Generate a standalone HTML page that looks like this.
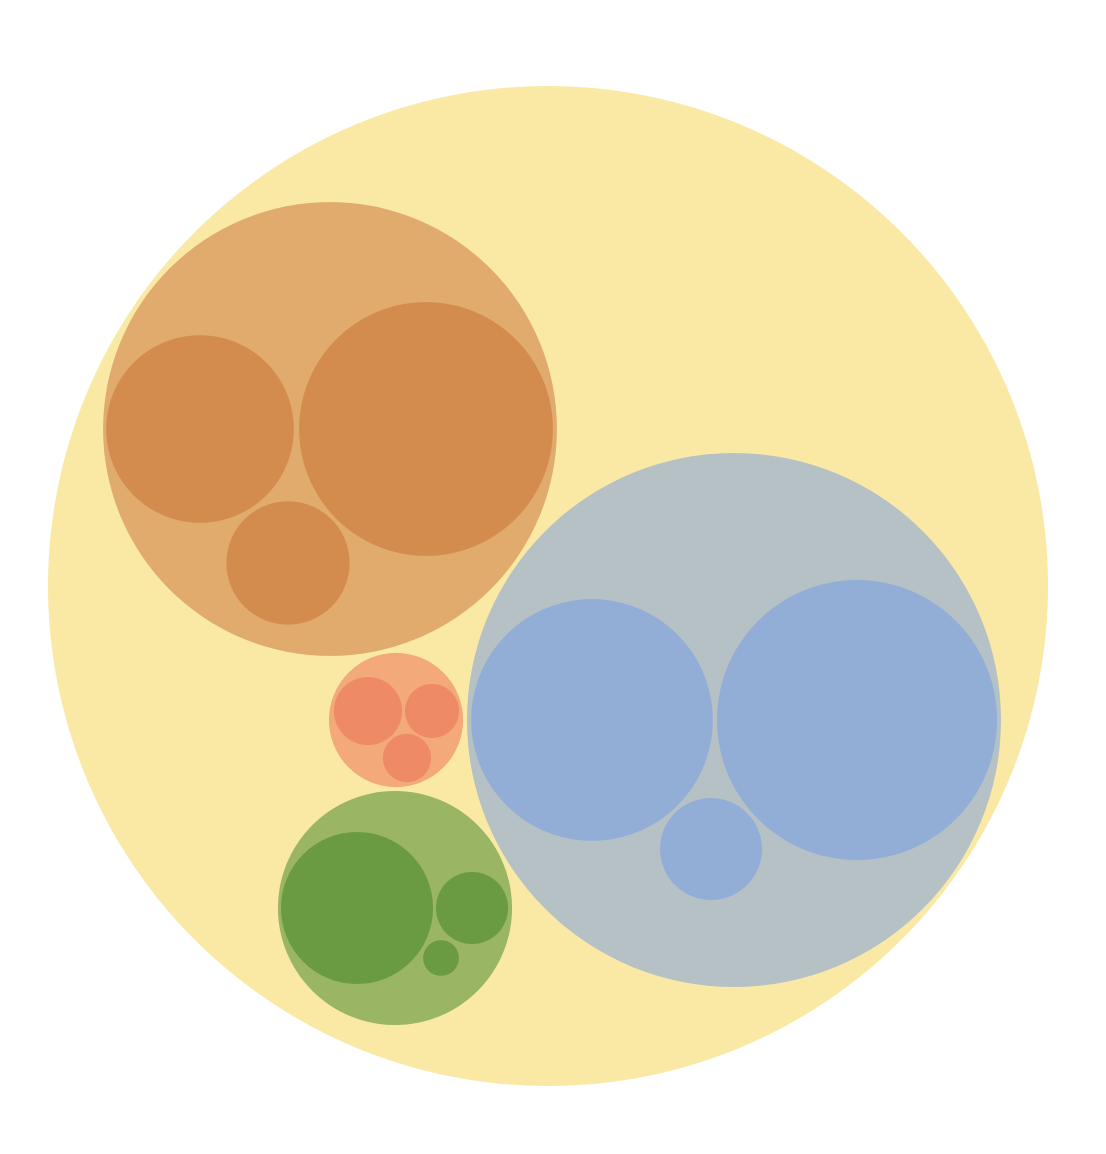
<!DOCTYPE html>
<html>
<head>
<meta charset="utf-8">
<style>
  html, body { margin: 0; padding: 0; background: #ffffff; }
  svg { display: block; }
</style>
</head>
<body>
<svg id="chart" width="1106" height="1154" viewBox="0 0 1106 1154" xmlns="http://www.w3.org/2000/svg"></svg>
<script>
// Data: values (area units); radius = 10 * sqrt(value)
const rootValue = [2500];
const groupNames = ["orange-group", "slate-group", "salmon-group", "green-group"];
const groupValues = [515, 713, 45, 137];
const leafNames = [
  ["orange-leaf-1", "orange-leaf-2", "orange-leaf-3"],
  ["blue-leaf-1", "blue-leaf-2", "blue-leaf-3"],
  ["salmon-leaf-1", "salmon-leaf-2", "salmon-leaf-3"],
  ["green-leaf-1", "green-leaf-2", "green-leaf-3"]
];
const leafValues = [
  [88, 161, 38],
  [146, 196, 26],
  [11.6, 7.3, 5.8],
  [57.8, 13, 3.2]
];

// Layout (centers) and styling
const rootCenter = [548, 586];
const groupCenters = [[330, 429], [734, 720], [396, 720], [395, 908]];
const leafCenters = [
  [[200, 429], [426, 429], [288, 563]],
  [[592, 720], [857, 720], [711, 849]],
  [[368, 711], [432, 711], [407, 758]],
  [[357, 908], [472, 908], [441, 958]]
];
const groupColors = ["#E0AB6D", "#B6C1C6", "#F3A97A", "#9AB563"];
const leafColors = ["#D38C4D", "#92ADD6", "#EE8A66", "#6A9B43"];

const svg = document.getElementById('chart');
const NS = "http://www.w3.org/2000/svg";
function radius(v) { return 10 * Math.sqrt(v); }
function circle(cx, cy, r, fill) {
  const c = document.createElementNS(NS, 'circle');
  c.setAttribute('cx', cx);
  c.setAttribute('cy', cy);
  c.setAttribute('r', r);
  c.setAttribute('fill', fill);
  svg.appendChild(c);
  return c;
}

const root = circle(rootCenter[0], rootCenter[1], radius(rootValue[0]), "#FAE9A5");



groupValues.forEach((v, i) => {
  const g = circle(groupCenters[i][0], groupCenters[i][1], radius(v), groupColors[i]);
  
  
  leafValues[i].forEach((lv, j) => {
    const l = circle(leafCenters[i][j][0], leafCenters[i][j][1], radius(lv), leafColors[i]);
    
    
  });
});
</script>
</body>
</html>
